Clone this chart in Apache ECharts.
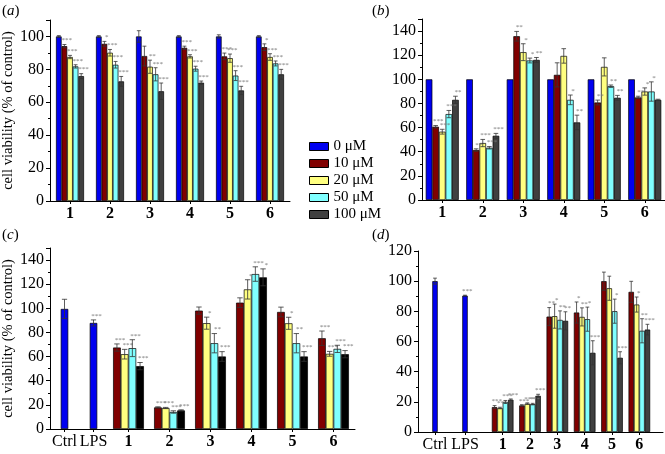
<!DOCTYPE html>
<html>
<head>
<meta charset="UTF-8">
<title></title>
<style>
html, body { margin: 0; padding: 0; background: #fff; }
#chart { width: 665px; height: 454px; }
</style>
</head>
<body>
<div id="chart"></div>
<script src="https://cdn.jsdelivr.net/npm/echarts@6/dist/echarts.min.js"></script>
<script>
var serif = 'Liberation Serif';
var conc = ['0 μM', '10 μM', '20 μM', '50 μM', '100 μM'];
var groups = ['1', '2', '3', '4', '5', '6'];
var ctrlCats = ['Ctrl', 'LPS'];
var colors = ['#0000f0', '#800000', '#ffff80', '#80ffff', '#404040'];
var colorsC = ['#800000', '#ffff80', '#80ffff', '#000000'];
var colorsD = ['#800000', '#ffff80', '#80ffff', '#404040'];
var yTitle = 'cell viability (% of control)';

// (a) rows = 0, 10, 20, 50, 100 uM ; columns = compounds 1..6
var aVal = [
  [100, 100, 100, 100, 100, 100],
  [94.1, 95.5, 88.1, 93.1, 87.9, 93.5],
  [87.5, 90.1, 81.6, 87.9, 86.8, 87.5],
  [81.8, 82.8, 77, 80.4, 76.2, 83.6],
  [75.9, 72.7, 66.7, 71.9, 67.2, 77]
];
var aErr = [
  [0.5, 0.5, 3.5, 0.5, 1, 0.5],
  [1, 1.5, 6, 1, 2, 2],
  [1, 2, 4, 1, 2.5, 2],
  [1, 2, 4, 1.5, 3, 1.5],
  [1.5, 3, 5, 1, 2.5, 3]
];
var aSig = [
  ['', '', '', '', '', ''],
  ['***', '*', '', '***', '***', '*'],
  ['***', '***', '**', '***', '***', '***'],
  ['***', '***', '***', '***', '***', '***'],
  ['***', '***', '***', '***', '***', '***']
];

// (b)
var bVal = [
  [100, 100, 100, 100, 100, 100],
  [60.7, 41.4, 135.7, 103.7, 80.8, 85],
  [56.6, 47.2, 122.5, 119.4, 110.3, 89.9],
  [71.2, 43.3, 115.6, 83, 94.3, 89.9],
  [83, 53.2, 116.1, 64.3, 84.7, 83]
];
var bErr = [
  [0, 0, 0, 0, 0, 0],
  [1, 1, 4, 10, 2, 1],
  [2, 3, 7, 6, 7.5, 3],
  [3, 1, 2, 4, 1, 8],
  [3, 2, 2, 6, 2, 0.5]
];
var bSig = [
  ['', '', '', '', '', ''],
  ['***', '**', '**', '', '**', '**'],
  ['***', '***', '*', '', '', '*'],
  ['***', '***', '*', '*', '**', '*'],
  ['**', '***', '**', '**', '**', '']
];

// (c) Ctrl / LPS, then rows = 10, 20, 50, 100 uM
var cCtrl = [99.5, 87.9];
var cCtrlErr = [8, 2.5];
var cCtrlSig = ['', '***'];
var cVal = [
  [67.5, 17.9, 98.1, 104.7, 97, 75.2],
  [62, 17.4, 87.7, 115.7, 87.6, 62.3],
  [67, 14.1, 71.1, 128.4, 71.1, 66.4],
  [52.1, 15.4, 60.1, 125.7, 60.1, 62]
];
var cErr = [
  [3, 0.5, 3, 4, 4, 6],
  [4, 0.5, 5, 8, 5, 2],
  [7, 1, 8, 6, 8, 3],
  [3, 0.5, 4, 7, 4, 3]
];
var cSig = [
  ['***', '***', '', '', '', '***'],
  ['***', '***', '*', '*', '*', '***'],
  ['***', '***', '**', '***', '**', '***'],
  ['***', '***', '***', '*', '***', '***']
];

// (d)
var dCtrl = [100, 90.4];
var dCtrlErr = [2, 0.3];
var dCtrlSig = ['', '***'];
var dVal = [
  [16.5, 17.6, 76.5, 79.2, 100, 92.9],
  [15.9, 18.8, 76.8, 76.3, 95.3, 84.5],
  [19.9, 18.5, 74.3, 74.8, 80.1, 67.1],
  [21.4, 24, 73.7, 52.5, 49.2, 67.9]
];
var dErr = [
  [1, 0.5, 6, 7, 6, 7],
  [0.5, 0.5, 8, 6, 8, 5],
  [1, 0.5, 6, 8, 8, 8],
  [0.5, 1, 6, 8, 4, 3.5]
];
var dSig = [
  ['***', '***', '**', '*', '', ''],
  ['***', '***', '*', '**', '', '*'],
  ['***', '***', '**', '*', '*', '**'],
  ['***', '***', '**', '***', '***', '***']
];

var grids = [], xAxes = [], yAxes = [], series = [];

function addGrid(left, top, width, height, yMax, showY, yName) {
  var gi = grids.length;
  grids.push({ left: left, top: top, width: width, height: height });
  yAxes.push({
    gridIndex: gi, type: 'value', min: 0, max: yMax, interval: 20, show: showY,
    name: yName || '', nameLocation: 'middle', nameGap: 31,
    nameTextStyle: { fontFamily: serif, fontSize: 14.5, color: '#000' },
    axisLine: { show: true, lineStyle: { color: '#000', width: 1 } },
    axisTick: { show: true, length: 4, lineStyle: { color: '#000' } },
    minorTick: { show: true, splitNumber: 2, length: 2, lineStyle: { color: '#000' } },
    splitLine: { show: false },
    axisLabel: { fontFamily: serif, fontSize: 16, color: '#000', margin: 6, showMaxLabel: yMax % 20 === 0 }
  });
  return gi;
}

function addCatAxis(gi, cats, bold, showLine) {
  xAxes.push({
    gridIndex: gi, type: 'category', data: cats,
    axisLine: { show: showLine, lineStyle: { color: '#000' } },
    axisTick: { show: true, alignWithLabel: true, interval: 0, length: 3, lineStyle: { color: '#000' } },
    axisLabel: { interval: 0, hideOverlap: false, fontFamily: serif, fontSize: 16,
      fontWeight: bold ? 'bold' : 'normal', color: '#000', margin: 5 }
  });
}

function addLineAxis(gi) {
  xAxes.push({
    gridIndex: gi, type: 'value', min: 0, max: 1,
    axisLine: { show: true, onZero: false, lineStyle: { color: '#000' } },
    axisTick: { show: false }, axisLabel: { show: false }, splitLine: { show: false }
  });
}

function errSeries(gi, v, e, s, off, barW) {
  return {
    type: 'custom', xAxisIndex: gi, yAxisIndex: gi, z: 5, silent: true,
    encode: { x: 0, y: 1 },
    data: v.map(function (val, i) { return [i, val, e[i]]; }),
    renderItem: function (params, api) {
      var i = api.value(0), val = api.value(1), err = api.value(2);
      var top = api.coord([i, val + err]);
      var bot = api.coord([i, val - err]);
      var cx = top[0] + off;
      var cap = barW * 0.35;
      var ls = { stroke: '#333', lineWidth: 0.8 };
      var ch = [];
      if (err > 0) {
        ch.push({ type: 'line', shape: { x1: cx, y1: top[1], x2: cx, y2: bot[1] }, style: ls });
        ch.push({ type: 'line', shape: { x1: cx - cap, y1: top[1], x2: cx + cap, y2: top[1] }, style: ls });
        ch.push({ type: 'line', shape: { x1: cx - cap, y1: bot[1], x2: cx + cap, y2: bot[1] }, style: ls });
      }
      var txt = s[params.dataIndex];
      if (txt) {
        ch.push({ type: 'text', style: { text: txt, x: cx + barW * 0.4, y: top[1] - 0.5, fill: '#777',
          fontSize: 7, fontFamily: serif, align: 'center', verticalAlign: 'bottom' } });
      }
      return { type: 'group', children: ch };
    }
  };
}

function addBars(gi, names, vals, errs, sigs, cols, barW) {
  var n = vals.length;
  for (var k = 0; k < n; k++) {
    series.push({
      type: 'bar', name: names[k], xAxisIndex: gi, yAxisIndex: gi, data: vals[k],
      barWidth: barW, barGap: '0%', silent: true,
      itemStyle: { color: cols[k], borderColor: '#000', borderWidth: 0.7 }
    });
    series.push(errSeries(gi, vals[k], errs[k], sigs[k], (k - (n - 1) / 2) * barW, barW));
  }
}

// (a)
var ga = addGrid(50, 20, 240, 181, 110, true, yTitle);
addCatAxis(ga, groups, true, true);
addBars(ga, conc, aVal, aErr, aSig, colors, 5.6);

// (b)
var gb = addGrid(422, 19, 243, 181, 150, true, '');
addCatAxis(gb, groups, true, true);
addBars(gb, conc, bVal, bErr, bSig, colors, 6.6);

// (c)
var hc = addGrid(50, 248, 305, 181, 150, true, yTitle);
addLineAxis(hc);
var gc1 = addGrid(50, 248, 58, 181, 150, false);
addCatAxis(gc1, ctrlCats, false, false);
addBars(gc1, [conc[0]], [cCtrl], [cCtrlErr], [cCtrlSig], [colors[0]], 7.5);
var gc2 = addGrid(108, 248, 246, 181, 150, false);
addCatAxis(gc2, groups, true, false);
addBars(gc2, conc.slice(1), cVal, cErr, cSig, colorsC, 7.7);

// (d)
var hd = addGrid(418, 251, 245, 181, 120, true, '');
addLineAxis(hd);
var gd1 = addGrid(420, 251, 60, 181, 120, false);
addCatAxis(gd1, ctrlCats, false, false);
addBars(gd1, [conc[0]], [dCtrl], [dCtrlErr], [dCtrlSig], [colors[0]], 5.4);
var gd2 = addGrid(489, 251, 164, 181, 120, false);
addCatAxis(gd2, groups, true, false);
addBars(gd2, conc.slice(1), dVal, dErr, dSig, colorsD, 5.4);

function panelLabel(letter, x, y) {
  return {
    type: 'text', left: x, top: y,
    style: {
      text: '{p|(}{i|' + letter + '}{p|)}',
      rich: {
        p: { fontFamily: serif, fontSize: 15, fill: '#000' },
        i: { fontFamily: serif, fontSize: 15, fontStyle: 'italic', fill: '#000' }
      }
    }
  };
}

var chart = echarts.init(document.getElementById('chart'));
chart.setOption({
  animation: false,
  backgroundColor: '#fff',
  grid: grids,
  xAxis: xAxes,
  yAxis: yAxes,
  legend: {
    data: conc, orient: 'vertical', left: 304, top: 134,
    itemWidth: 19, itemHeight: 8, itemGap: 2, icon: 'rect', selectedMode: false,
    itemStyle: { borderColor: '#000', borderWidth: 1 },
    textStyle: { fontFamily: serif, fontSize: 15, color: '#000', lineHeight: 14 }
  },
  graphic: [
    panelLabel('a', 2, 4),
    panelLabel('b', 372, 4),
    panelLabel('c', 2, 228),
    panelLabel('d', 372, 228)
  ],
  series: series
});
</script>
</body>
</html>
